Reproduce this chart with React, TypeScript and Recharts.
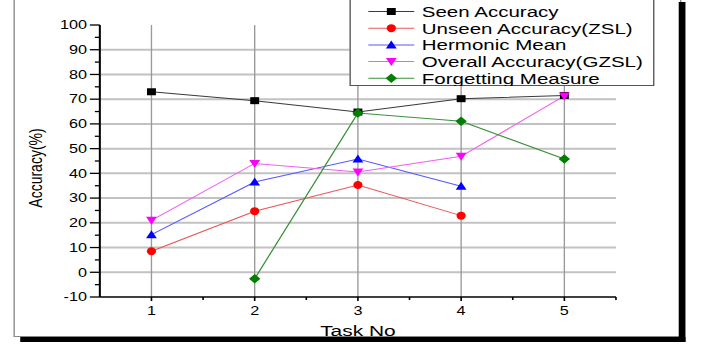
import React from "react";
import {
  LineChart,
  Line,
  XAxis,
  YAxis,
  ReferenceLine,
} from "recharts";

const tasks = [1, 2, 3, 4, 5];
const seenAccuracy = [73, 69.4, 64.8, 70.2, 71.5];
const unseenAccuracy = [8.5, 24.7, 35.3, 22.9, null];
const harmonicMean = [15.2, 36.5, 45.8, 34.8, null];
const overallAccuracy = [21, 44, 40.6, 46.9, 71.3];
const forgettingMeasure = [null, -2.6, 64.4, 61.1, 45.8];

const xTicks = [1, 2, 3, 4, 5];
const xMinorTicks = [1.5, 2.5, 3.5, 4.5, 5.5];
const yTicks = [-10, 0, 10, 20, 30, 40, 50, 60, 70, 80, 90, 100];
const yMinorTicks = [-5, 5, 15, 25, 35, 45, 55, 65, 75, 85, 95];
const yGridLines = [0, 10, 20, 30, 40, 50, 60, 70, 80, 90];

type Shape = "square" | "circle" | "triangle" | "triangleDown" | "diamond";

const series: { key: string; name: string; color: string; line: string; shape: Shape }[] = [
  { key: "seen", name: "Seen Accuracy", color: "#000000", line: "#3a3a3a", shape: "square" },
  { key: "unseen", name: "Unseen Accuracy(ZSL)", color: "#ff0000", line: "#e85858", shape: "circle" },
  { key: "harmonic", name: "Hermonic Mean", color: "#0000ff", line: "#5a5aff", shape: "triangle" },
  { key: "overall", name: "Overall Accuracy(GZSL)", color: "#ff00ff", line: "#f060f0", shape: "triangleDown" },
  { key: "forgetting", name: "Forgetting Measure", color: "#007f00", line: "#3a903a", shape: "diamond" },
];

const data = tasks.map((t, i) => ({
  task: t,
  seen: seenAccuracy[i],
  unseen: unseenAccuracy[i],
  harmonic: harmonicMean[i],
  overall: overallAccuracy[i],
  forgetting: forgettingMeasure[i],
}));

const FONT = '"Liberation Sans", Arial, sans-serif';
// the reference is stretched sideways, so the chart is drawn narrow and scaled
const SX = 703 / 521;
const CHART_W = 521;
const MARGIN = { top: 25, right: 64.5, bottom: 19, left: 14 };

function marker(shape: Shape, cx: number, cy: number, color: string, key?: string) {
  switch (shape) {
    case "square":
      return <rect key={key} x={cx - 3.3} y={cy - 3.5} width={6.6} height={7} fill={color} />;
    case "circle":
      return <ellipse key={key} cx={cx} cy={cy} rx={3.4} ry={4} fill={color} />;
    case "triangle":
      return (
        <polygon key={key} points={`${cx - 4},${cy + 3.5} ${cx + 4},${cy + 3.5} ${cx},${cy - 4.5}`} fill={color} />
      );
    case "triangleDown":
      return (
        <polygon key={key} points={`${cx - 4},${cy - 3.5} ${cx + 4},${cy - 3.5} ${cx},${cy + 4.5}`} fill={color} />
      );
    default:
      return (
        <polygon
          key={key}
          points={`${cx},${cy - 4.8} ${cx + 4.2},${cy} ${cx},${cy + 4.8} ${cx - 4.2},${cy}`}
          fill={color}
        />
      );
  }
}

function makeDot(shape: Shape, color: string) {
  return (props: any) => {
    const { cx, cy, value, index } = props;
    if (value == null || cx == null || cy == null) return <g key={`e-${index}`} />;
    return marker(shape, cx, cy, color, `d-${index}`);
  };
}

const YTick = (props: any) => {
  const { x, y, payload } = props;
  const major = payload.value % 10 === 0;
  return (
    <g>
      <line x1={x - (major ? 7.4 : 3.7)} x2={x} y1={y} y2={y} stroke="#000" strokeWidth={1.3} />
      {major && (
        <text x={x - 9.5} y={y} dy="0.36em" textAnchor="end" fontSize={12} fontFamily={FONT} fill="#000">
          {payload.value}
        </text>
      )}
    </g>
  );
};

const XTick = (props: any) => {
  const { x, y, payload } = props;
  const major = Number.isInteger(payload.value);
  return (
    <g>
      <line x1={x} x2={x} y1={y} y2={y + (major ? 4 : 3)} stroke="#000" strokeWidth={1.2} />
      {major && (
        <text x={x} y={y + 14} dy="0.36em" textAnchor="middle" fontSize={12} fontFamily={FONT} fill="#000">
          {payload.value}
        </text>
      )}
    </g>
  );
};

function Legend() {
  return (
    <div
      style={{
        position: "absolute",
        left: 258.7,
        top: -3,
        width: 226.7,
        height: 89,
        border: "1px solid #555",
        background: "#fff",
        boxSizing: "border-box",
      }}
    >
      <svg width={226} height={88}>
        {series.map((s, i) => {
          const cy = 13.5 + i * 16.7;
          return (
            <g key={s.key}>
              <line x1={13} x2={47} y1={cy} y2={cy} stroke={s.line} strokeWidth={1} />
              {marker(s.shape, 30, cy, s.color)}
              <text x={52.6} y={cy} dy="0.36em" fontSize={15.2} fontFamily={FONT} fill="#000">
                {s.name}
              </text>
            </g>
          );
        })}
      </svg>
    </div>
  );
}

export default function App() {
  return (
    <div
      style={{
        position: "absolute",
        left: 0,
        top: 0,
        width: CHART_W,
        height: 346,
        transform: `scaleX(${SX})`,
        transformOrigin: "0 0",
        background: "#fff",
        overflow: "hidden",
      }}
    >
      {/* framed box with a drop shadow */}
      <div
        style={{
          position: "absolute",
          left: 9.6,
          top: -5,
          width: 495,
          height: 342,
          border: "1px solid #888",
          boxSizing: "border-box",
        }}
      />
      <div style={{ position: "absolute", left: 503.2, top: 2, width: 4.5, height: 340, background: "#000" }} />
      <div style={{ position: "absolute", left: 14.8, top: 337, width: 492.9, height: 5, background: "#000" }} />

      <div style={{ position: "absolute", left: 0, top: 0 }}>
        <LineChart width={CHART_W} height={346} data={data} margin={MARGIN}>
          {yGridLines.map((v) => (
            <ReferenceLine
              key={`hy-${v}`}
              y={v}
              stroke="#c2c2c2"
              strokeWidth={2}
              ifOverflow="visible"
            />
          ))}
          {xTicks.map((t) => (
            <ReferenceLine key={`vx-${t}`} x={t} stroke="#9a9a9a" strokeWidth={1} />
          ))}
          <XAxis
            type="number"
            dataKey="task"
            domain={[0.5, 5.5]}
            ticks={[...xTicks, ...xMinorTicks].sort((a, b) => a - b)}
            interval={0}
            tickSize={0}
            tickMargin={0}
            tickLine={false}
            tick={<XTick />}
            height={30}
            axisLine={{ stroke: "#000", strokeWidth: 1.6 }}
            label={{
              content: (p: any) => (
                <text
                  x={p.viewBox.x + p.viewBox.width / 2}
                  y={p.viewBox.y + 39}
                  textAnchor="middle"
                  fontSize={15.5}
                  fontFamily={FONT}
                  fill="#000"
                >
                  Task No
                </text>
              ),
            }}
          />
          <YAxis
            type="number"
            domain={[-10, 100]}
            ticks={[...yTicks, ...yMinorTicks].sort((a, b) => a - b)}
            interval={0}
            tickSize={0}
            tickMargin={0}
            tickLine={false}
            tick={<YTick />}
            width={60}
            axisLine={{ stroke: "#000", strokeWidth: 1.5 }}
            label={{
              content: (p: any) => {
                const x = p.viewBox.x + 12;
                const y = p.viewBox.y + p.viewBox.height / 2 + 7;
                return (
                  <text
                    x={x}
                    y={y}
                    transform={`rotate(-90 ${x} ${y})`}
                    textAnchor="middle"
                    dy="0.36em"
                    fontSize={14}
                    fontFamily={FONT}
                    fill="#000"
                  >
                    Accuracy(%)
                  </text>
                );
              },
            }}
          />
          {series.map((s) => (
            <Line
              key={s.key}
              dataKey={s.key}
              name={s.name}
              stroke={s.line}
              strokeWidth={1}
              dot={makeDot(s.shape, s.color)}
              activeDot={false}
              connectNulls={false}
              isAnimationActive={false}
            />
          ))}
        </LineChart>
      </div>
      <Legend />
    </div>
  );
}
